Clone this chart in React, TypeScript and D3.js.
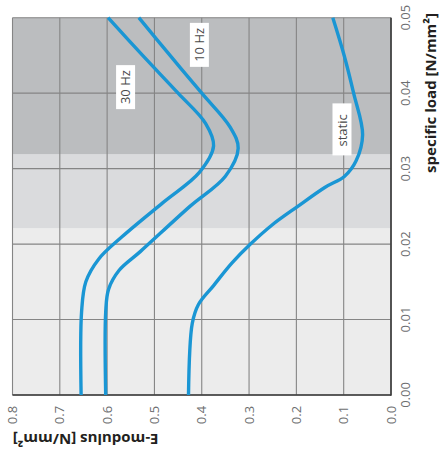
import React from "react";
import * as d3 from "d3";

// E-modulus ticks (bottom, reversed) and specific load ticks (right)
const eTicks = [0.8, 0.7, 0.6, 0.5, 0.4, 0.3, 0.2, 0.1, 0.0];
const loadTicks = [0.0, 0.01, 0.02, 0.03, 0.04, 0.05];

// background bands by specific load
const bandEdges = [0, 0.0221, 0.0319, 0.05];
const bandColors = ["#ececec", "#dadbdd", "#bbbdbf"];

// series: specific load vs E-modulus
const load30 = [0, 0.011, 0.015, 0.018, 0.021, 0.0255, 0.0295, 0.033, 0.036, 0.04, 0.045, 0.05];
const e30 = [0.655, 0.654, 0.645, 0.618, 0.568, 0.482, 0.405, 0.375, 0.392, 0.45, 0.525, 0.598];

const load10 = [0, 0.011, 0.014, 0.0165, 0.019, 0.025, 0.029, 0.0327, 0.0355, 0.04, 0.045, 0.05];
const e10 = [0.603, 0.603, 0.597, 0.575, 0.53, 0.425, 0.35, 0.323, 0.34, 0.4, 0.467, 0.533];

const loadStatic = [0, 0.0095, 0.012, 0.0145, 0.0175, 0.02, 0.0225, 0.025, 0.0275, 0.029, 0.031, 0.0345, 0.04, 0.045, 0.05];
const eStatic = [0.428, 0.42, 0.407, 0.375, 0.336, 0.297, 0.252, 0.197, 0.14, 0.098, 0.074, 0.06, 0.079, 0.099, 0.123];

const seriesNames = ["30 Hz", "10 Hz", "static"];
const labelE = [0.561, 0.405, 0.1036];
const labelLoad = [0.0408, 0.0464, 0.0352];

export default function App() {
  const W = 447, H = 474;
  const x = d3.scaleLinear().domain([0.8, 0]).range([12.5, 391]);
  const y = d3.scaleLinear().domain([0, 0.05]).range([395, 17.7]);

  const series = [
    { name: seriesNames[0], loads: load30, es: e30 },
    { name: seriesNames[1], loads: load10, es: e10 },
    { name: seriesNames[2], loads: loadStatic, es: eStatic },
  ];

  const line = d3
    .line<[number, number]>()
    .x((d) => x(d[1]))
    .y((d) => y(d[0]))
    .curve(d3.curveCatmullRom.alpha(0.5));

  const font = "'Open Sans', sans-serif";
  const [x0, x1] = x.range();
  const [yb, yt] = y.range();

  return (
    <svg width={W} height={H} style={{ position: "absolute", left: 0, top: 0 }} fontFamily={font}>
      <rect x={0} y={0} width={W} height={H} fill="#ffffff" />
      {bandColors.map((c, i) => (
        <rect
          key={"b" + i}
          x={x0}
          width={x1 - x0}
          y={y(bandEdges[i + 1])}
          height={y(bandEdges[i]) - y(bandEdges[i + 1])}
          fill={c}
        />
      ))}
      {eTicks.map((t) => (
        <line key={"gx" + t} x1={x(t)} x2={x(t)} y1={yt} y2={yb} stroke="#858585" strokeWidth={1.1} />
      ))}
      {loadTicks.map((t) => (
        <line key={"gy" + t} x1={x0} x2={x1} y1={y(t)} y2={y(t)} stroke="#858585" strokeWidth={1.1} />
      ))}
      {/* dark axis lines right and bottom */}
      <line x1={x1} x2={x1} y1={yt} y2={yb + 0.8} stroke="#3a3a3a" strokeWidth={1.6} />
      <line x1={x0} x2={x1} y1={yb} y2={yb} stroke="#3a3a3a" strokeWidth={1.6} />

      {series.map((s) => (
        <path
          key={s.name}
          d={line(s.loads.map((l, i) => [l, s.es[i]] as [number, number])) || ""}
          fill="none"
          stroke="#1a96d4"
          strokeWidth={3.4}
          strokeLinecap="butt"
        />
      ))}

      {seriesNames.map((n, i) => {
        const cx = x(labelE[i]);
        const cy = y(labelLoad[i]);
        const len = n === "static" ? 52 : 44;
        return (
          <g key={"l" + n} transform={`translate(${cx},${cy}) rotate(-90)`}>
            <rect x={-len / 2} y={-9.5} width={len} height={19} fill="#ffffff" />
            <text x={n === "static" ? -1 : 0} y={0} dy="0.35em" textAnchor="middle" fontSize={13} fill="#4a4a4a">
              {n}
            </text>
          </g>
        );
      })}

      {eTicks.map((t) => (
        <text
          key={"tx" + t}
          transform={`translate(${x(t)},${415}) rotate(-90)`}
          dy="0.35em"
          textAnchor="middle"
          fontSize={13}
          fill="#6d6e70"
        >
          {t.toFixed(1)}
        </text>
      ))}
      {loadTicks.map((t) => (
        <text
          key={"ty" + t}
          transform={`translate(${405},${y(t)}) rotate(-90)`}
          dy="0.35em"
          textAnchor="middle"
          fontSize={13}
          fill="#6d6e70"
        >
          {t.toFixed(2)}
        </text>
      ))}

      <text
        transform={`translate(${436},${13}) rotate(-90)`}
        textAnchor="end"
        fontSize={15}
        fontWeight="bold"
        fill="#231f20"
      >
        specific load [N/mm²]
      </text>
      <text
        transform={`translate(${12.7},${434}) rotate(180)`}
        textAnchor="end"
        fontSize={15}
        fontWeight="bold"
        fill="#231f20"
      >
        E-modulus [N/mm²]
      </text>
    </svg>
  );
}
